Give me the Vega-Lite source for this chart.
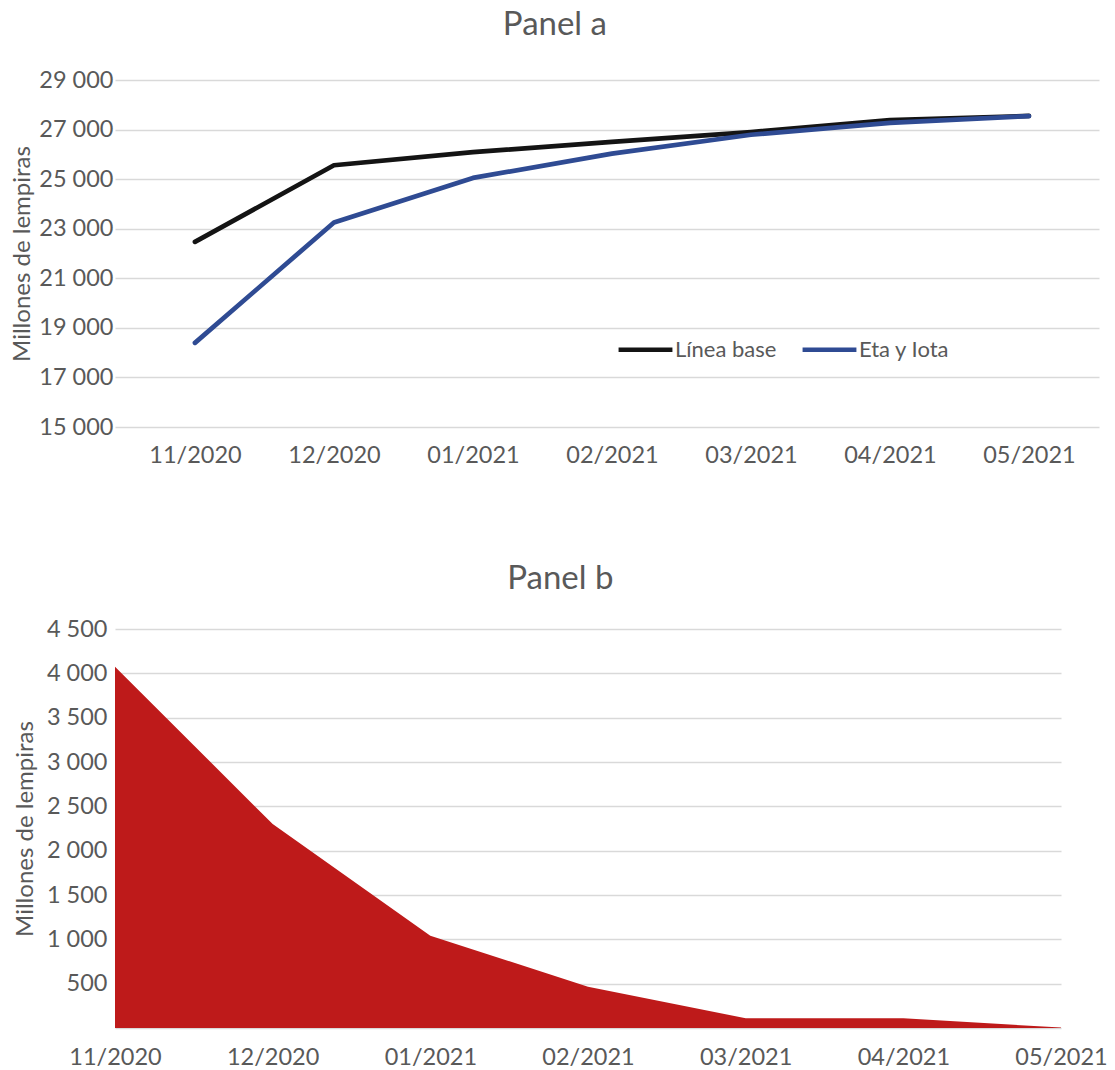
{
  "$schema": "https://vega.github.io/schema/vega-lite/v6.json",
  "padding": {"top": 9, "left": 10, "right": 0, "bottom": 0},
  "background": "white",
  "columns": 1,
  "align": "none",
  "spacing": 96,
  "config": {
    "font": "Lato",
    "view": {"stroke": null},
    "axis": {
      "labelFont": "Lato",
      "titleFont": "Lato",
      "labelColor": "#595959",
      "titleColor": "#595959",
      "labelFontSize": 23.5,
      "titleFontSize": 24,
      "titleFontWeight": "normal",
      "gridColor": "#d9d9d9",
      "gridWidth": 1.3,
      "domain": false,
      "ticks": false
    },
    "title": {
      "font": "Lato",
      "fontSize": 33,
      "fontWeight": "normal",
      "color": "#595959",
      "frame": "bounds",
      "anchor": "middle"
    }
  },
  "datasets": {
    "panelA": [
      {"mes": "11/2020", "serie": "Línea base", "valor": 22470},
      {"mes": "12/2020", "serie": "Línea base", "valor": 25560},
      {"mes": "01/2021", "serie": "Línea base", "valor": 26090},
      {"mes": "02/2021", "serie": "Línea base", "valor": 26500},
      {"mes": "03/2021", "serie": "Línea base", "valor": 26900},
      {"mes": "04/2021", "serie": "Línea base", "valor": 27380},
      {"mes": "05/2021", "serie": "Línea base", "valor": 27550},
      {"mes": "11/2020", "serie": "Eta y Iota", "valor": 18395},
      {"mes": "12/2020", "serie": "Eta y Iota", "valor": 23250},
      {"mes": "01/2021", "serie": "Eta y Iota", "valor": 25050},
      {"mes": "02/2021", "serie": "Eta y Iota", "valor": 26030},
      {"mes": "03/2021", "serie": "Eta y Iota", "valor": 26790},
      {"mes": "04/2021", "serie": "Eta y Iota", "valor": 27270},
      {"mes": "05/2021", "serie": "Eta y Iota", "valor": 27545}
    ],
    "panelB": [
      {"mes": "11/2020", "valor": 4075},
      {"mes": "12/2020", "valor": 2300},
      {"mes": "01/2021", "valor": 1040},
      {"mes": "02/2021", "valor": 466},
      {"mes": "03/2021", "valor": 110},
      {"mes": "04/2021", "valor": 110},
      {"mes": "05/2021", "valor": 5}
    ]
  },
  "concat": [
    {
      "title": {"text": "Panel a", "offset": 26},
      "width": 984,
      "height": 347,
      "data": {"name": "panelA"},
      "mark": {"type": "line", "strokeWidth": 4.7, "strokeCap": "round", "strokeJoin": "round"},
      "encoding": {
        "x": {
          "field": "mes",
          "type": "ordinal",
          "sort": ["11/2020", "12/2020", "01/2021", "02/2021", "03/2021", "04/2021", "05/2021"],
          "scale": {"type": "point", "padding": 0.5396, "align": 0.533},
          "axis": {"title": null, "labelAngle": 0, "labelPadding": 16, "grid": false, "labelDx": 8}
        },
        "y": {
          "field": "valor",
          "type": "quantitative",
          "scale": {"domain": [15000, 29000], "nice": false, "zero": false},
          "axis": {
            "title": "Millones de lempiras",
            "values": [15000, 17000, 19000, 21000, 23000, 25000, 27000, 29000],
            "format": ",d",
            "labelExpr": "replace(datum.label, ',', ' ')",
            "labelPadding": 2,
            "titlePadding": 4
          }
        },
        "color": {
          "field": "serie",
          "type": "nominal",
          "sort": ["Línea base", "Eta y Iota"],
          "scale": {"domain": ["Línea base", "Eta y Iota"], "range": ["#141414", "#2F4B93"]},
          "legend": {
            "title": null,
            "orient": "none",
            "legendX": 501,
            "legendY": 240,
            "direction": "horizontal",
            "symbolType": "stroke",
            "symbolSize": 2900,
            "symbolStrokeWidth": 4.7,
            "labelFontSize": 22,
            "labelColor": "#595959",
            "labelFont": "Lato",
            "columnPadding": 16,
            "labelOffset": 0
          }
        }
      }
    },
    {
      "title": {"text": "Panel b", "offset": 21},
      "width": 946,
      "height": 399,
      "data": {"name": "panelB"},
      "mark": {"type": "area", "color": "#BE1A1A"},
      "encoding": {
        "x": {
          "field": "mes",
          "type": "ordinal",
          "sort": ["11/2020", "12/2020", "01/2021", "02/2021", "03/2021", "04/2021", "05/2021"],
          "scale": {"type": "point", "padding": 0},
          "axis": {"title": null, "labelAngle": 0, "labelPadding": 17, "grid": false, "labelDx": 8}
        },
        "y": {
          "field": "valor",
          "type": "quantitative",
          "scale": {"domain": [0, 4500], "nice": false},
          "axis": {
            "title": "Millones de lempiras",
            "values": [0, 500, 1000, 1500, 2000, 2500, 3000, 3500, 4000, 4500],
            "format": ",d",
            "labelExpr": "datum.value == 0 ? '' : replace(datum.label, ',', ' ')",
            "labelPadding": 8,
            "titlePadding": 9
          }
        }
      }
    }
  ]
}
